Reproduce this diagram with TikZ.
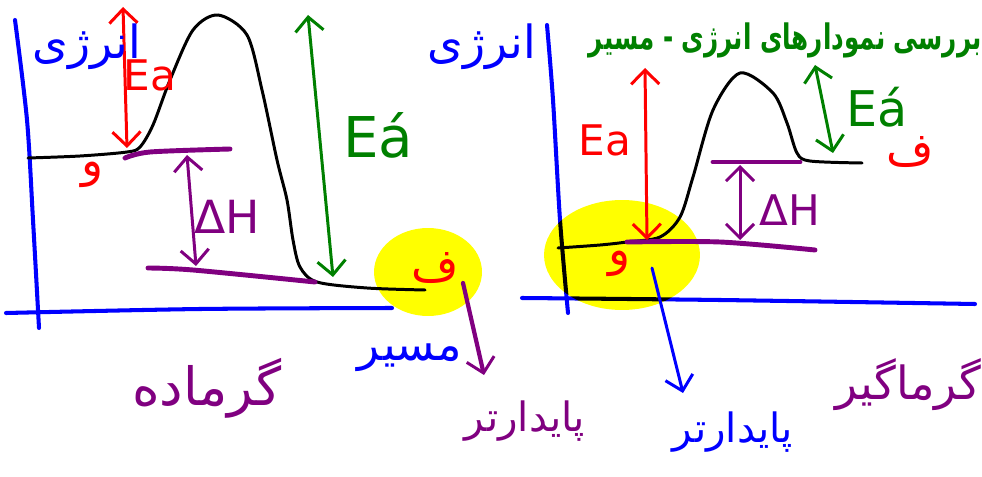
\documentclass[tikz,border=0pt]{standalone}
\usepackage{fontspec}
\setmainfont{DejaVu Sans}
\newfontfamily\farsi[Script=Arabic]{DejaVu Sans}
\TeXXeTstate=1
\usepackage{tikz}
\usetikzlibrary{arrows.meta, positioning}
\definecolor{penblue}{RGB}{0, 0, 255}
\definecolor{penred}{RGB}{255, 0, 0}
\definecolor{pengreen}{RGB}{0, 128, 0}
\definecolor{penpurple}{RGB}{128, 0, 128}
\definecolor{marker}{RGB}{255, 255, 0}
\tikzstyle{axisline} = [draw=penblue, line width=2.3pt, line cap=round]
\tikzstyle{energyline} = [draw=black, line width=1.7pt, line cap=round]
\tikzstyle{enlevel} = [draw=penpurple, line width=2.8pt, line cap=round]
\tikzstyle{arrow} = [line width=1.7pt, line cap=round, >={Straight Barb[length=8pt, width=16pt, line width=1.7pt]}]
\tikzstyle{marked} = [fill=marker, blend mode=multiply]
\tikzstyle{latin} = [inner sep=0pt, font=\fontsize{24}{24}\selectfont]
\tikzstyle{hand} = [inner sep=0pt, font=\farsi\fontsize{26}{26}\selectfont]

\begin{document}
\begin{tikzpicture}[x=0.02cm, y=-0.02cm]
        \useasboundingbox (0,0) rectangle (982,476);

        % axes
        \draw[axisline] plot[smooth] coordinates {(15,20) (27,120) (33,220) (39,328)};
        \draw[axisline] plot[smooth] coordinates {(6,313) (200,309) (392,308)};
        \draw[axisline] plot[smooth] coordinates {(547,25) (553,100) (560,220) (568,313)};
        \draw[axisline] plot[smooth] coordinates {(522,298) (720,300) (975,304)};

        % highlighter
        \fill[marked] (428,272) ellipse [x radius=1.08cm, y radius=0.88cm];
        \fill[marked] (622,255) ellipse [x radius=1.56cm, y radius=1.1cm];

        % exothermic
        \draw[energyline] plot[smooth] coordinates {(28,158) (80,156) (127,152) (140,147) (153,125) (170,80) (193,30) (218,15) (247,35) (262,90) (277,160) (287,200) (293,240) (300,267) (317,282) (367,288) (425,290)};
        \draw[enlevel] plot[smooth] coordinates {(125,158) (150,152) (230,149)};
        \draw[enlevel] plot[smooth] coordinates {(148,268) (193,270) (315,282)};

        \coordinate (eaLtop) at (123,7);
        \coordinate (eaLbot) at (127,148);
        \coordinate (dhLtop) at (187,155);
        \coordinate (dhLbot) at (196,266);
        \coordinate (ebLtop) at (308,15);
        \coordinate (ebLbot) at (333,277);
        \coordinate (prodL) at (463,283);
        \coordinate (tipL) at (484,375);
        \draw[arrow, penred, <->] (eaLtop) -- (eaLbot);
        \draw[arrow, penpurple, <->] (dhLtop) -- (dhLbot);
        \draw[arrow, pengreen, <->] (ebLtop) -- (ebLbot);
        \draw[arrow, penpurple, ->, line width=2.4pt] (prodL) -- (tipL);

        \node (energyL) [hand, penblue] at (87,47) {\beginR انرژی\endR};
        \node (eaL) [latin, penred] at (150,75) {Ea};
        \node (dhL) [latin, penpurple, font=\fontsize{26}{26}\selectfont] at (227,217) {ΔH};
        \node (ebL) [latin, pengreen, font=\fontsize{32}{32}\selectfont] at (378,135) {Eá};
        \node (reacL) [hand, penred] at (93,175) {\beginR و\endR};
        \node (prodtxtL) [hand, penred] at (435,268) {\beginR ف\endR};
        \node (path) [hand, penblue] at (410,358) {\beginR مسیر\endR};
        \node (exo) [hand, penpurple, font=\farsi\fontsize{30}{30}\selectfont] at (207,388) {\beginR گرماده\endR};
        \node (stableL) [hand, penpurple, font=\farsi\fontsize{23}{23}\selectfont] at (525,421) {\beginR پایدارتر\endR};

        % endothermic
        \draw[energyline] plot[smooth] coordinates {(558,248) (600,245) (627,242) (660,237) (680,217) (693,177) (713,110) (740,73) (773,93) (787,123) (797,153) (810,161) (862,163)};
        \draw[enlevel] (713,162) -- (800,162);
        \draw[enlevel] plot[smooth] coordinates {(627,242) (720,242) (815,250)};

        \coordinate (eaRtop) at (645,68);
        \coordinate (eaRbot) at (647,240);
        \coordinate (dhRtop) at (740,165);
        \coordinate (dhRbot) at (740,240);
        \coordinate (ebRtop) at (815,65);
        \coordinate (ebRbot) at (833,153);
        \coordinate (reacR) at (652,268);
        \coordinate (tipR) at (683,393);
        \draw[arrow, penred, <->] (eaRtop) -- (eaRbot);
        \draw[arrow, penpurple, <->] (dhRtop) -- (dhRbot);
        \draw[arrow, pengreen, <->] (ebRtop) -- (ebRbot);
        \draw[arrow, penblue, ->] (reacR) -- (tipR);

        \node (energyR) [hand, penblue] at (482,47) {\beginR انرژی\endR};
        \node (eaR) [latin, penred] at (605,140) {Ea};
        \node (dhR) [latin, penpurple] at (790,210) {ΔH};
        \node (ebR) [latin, pengreen, font=\fontsize{28}{28}\selectfont] at (877,107) {Eá};
        \node (reacRtxt) [hand, penred] at (620,264) {\beginR و\endR};
        \node (prodtxtR) [hand, penred] at (910,152) {\beginR ف\endR};
        \node (stableR) [hand, penblue, font=\farsi\fontsize{23}{23}\selectfont] at (733,432) {\beginR پایدارتر\endR};
        \node (endo) [hand, penpurple, anchor=east] at (982,385) {\beginR گرماگیر\endR};

        % title
        \node (title) [pengreen, anchor=east, inner sep=0pt, font=\farsi\bfseries\fontsize{20}{20}\selectfont] at (982,40) {\scalebox{0.7}[1]{\beginR بررسی نمودارهای انرژی - مسیر\endR}};
    \end{tikzpicture}
\end{document}
